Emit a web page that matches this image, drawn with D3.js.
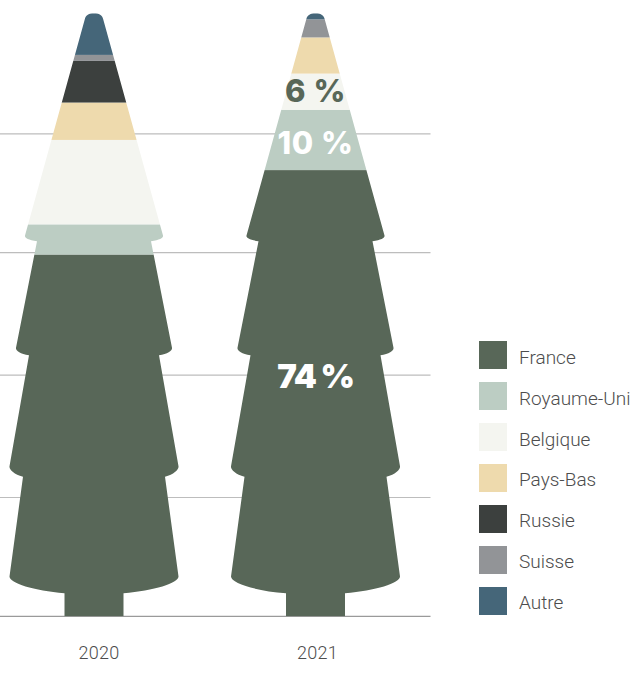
<!DOCTYPE html>
<html lang="fr">
<head>
<meta charset="utf-8">
<script src="https://cdn.jsdelivr.net/npm/d3@7"></script>
<style>
  html, body { margin: 0; padding: 0; background: #fff; overflow: hidden; }
  svg { display: block; }
  .axis-label, .legend-label { font-family: Roboto, sans-serif; font-weight: 300; fill: #4d4d4d; }
  .value-label { font-family: Inter, sans-serif; }
</style>
</head>
<body>
<div id="chart"></div>
<script>
const years = ["2020", "2021"];
const countries = ["France", "Royaume-Uni", "Belgique", "Pays-Bas", "Russie", "Suisse", "Autre"];
const colors = ["#586758", "#bccdc3", "#f4f5f0", "#eedaad", "#3c403e", "#929497", "#456679"];
const values2020 = [60, 5, 14, 6.2, 6.9, 1, 6.9];
const values2021 = [74, 10, 6, 6, 0, 3, 1];
const gridTicks = [0, 19.7, 40, 60.3, 80];
const labelledCountries = ["France", "Royaume-Uni", "Belgique"];

const width = 634, height = 684;
const svg = d3.select("#chart").append("svg").attr("width", width).attr("height", height);

const y = d3.scaleLinear().domain([0, 100]).range([616.3, 13.3]);
const x = d3.scaleBand().domain(years).range([-16.75, 426.25]);
const xLabel = d3.scalePoint().domain(years).range([99, 317.5]);

// Fir silhouette around cx; `dy` runs from the tip (0) down to the ground line.
function firPath(cx) {
  const top = y(100);
  const p = (dx, dy) => `${cx + dx},${top + dy}`;
  const right = [
    `M${p(0, 0)}`,
    `C${p(5, 0)} ${p(8.2, 1.8)} ${p(9.2, 6)}`,
    `L${p(69, 222.3)}`,
    `C${p(69.5, 224.5)} ${p(66, 226.5)} ${p(57, 228)}`,
    `L${p(78, 334.5)}`,
    `C${p(78.5, 337)} ${p(74, 340.5)} ${p(65, 342)}`,
    `L${p(84.5, 453)}`,
    `C${p(85, 456)} ${p(80, 461)} ${p(71, 463.5)}`,
    `L${p(84.5, 563.3)}`,
    `C${p(84.5, 570)} ${p(60, 577.5)} ${p(29.5, 580)}`,
    `L${p(29.5, 603)}`
  ];
  const left = [
    `L${p(-29.5, 603)}`,
    `L${p(-29.5, 580)}`,
    `C${p(-60, 577.5)} ${p(-84.5, 570)} ${p(-84.5, 563.3)}`,
    `L${p(-71, 463.5)}`,
    `C${p(-80, 461)} ${p(-85, 456)} ${p(-84.5, 453)}`,
    `L${p(-65, 342)}`,
    `C${p(-74, 340.5)} ${p(-78.5, 337)} ${p(-78, 334.5)}`,
    `L${p(-57, 228)}`,
    `C${p(-66, 226.5)} ${p(-69.5, 224.5)} ${p(-69, 222.3)}`,
    `L${p(-9.2, 6)}`,
    `C${p(-8.2, 1.8)} ${p(-5, 0)} ${p(0, 0)}`,
    "Z"
  ];
  return right.concat(left).join(" ");
}

// Gridlines
svg.append("g").selectAll("line").data(gridTicks).join("line")
  .attr("x1", 0).attr("x2", 430.5)
  .attr("y1", d => y(d)).attr("y2", d => y(d))
  .attr("stroke", d => d === 0 ? "#9a9a9a" : "#bdbdbd")
  .attr("stroke-width", 1.2);

const series = [values2020, values2021];
const defs = svg.append("defs");

years.forEach((year, i) => {
  const cx = x(year) + x.bandwidth() / 2;
  defs.append("clipPath").attr("id", `fir-${year}`).append("path").attr("d", firPath(cx));

  const stack = d3.cumsum(series[i]);
  const segments = series[i].map((v, k) => ({ v, top: stack[k], base: stack[k] - v, color: colors[k] }));

  svg.append("g").attr("clip-path", `url(#fir-${year})`)
    .selectAll("rect").data(segments.filter(s => s.v > 0)).join("rect")
    .attr("x", cx - 100).attr("width", 200)
    .attr("y", s => y(s.top)).attr("height", s => y(s.base) - y(s.top))
    .attr("fill", s => s.color);

  svg.append("text").attr("class", "axis-label")
    .attr("x", xLabel(year)).attr("y", 658.5).attr("text-anchor", "middle")
    .attr("font-size", 18).attr("letter-spacing", 0.3).text(year);
});

// Percent labels on the 2021 tree; the France label sits above its segment's middle
const cx21 = x("2021") + x.bandwidth() / 2;
const stack21 = d3.cumsum(values2021);
labelledCountries.forEach(country => {
  const k = countries.indexOf(country);
  const isFrance = country === "France";
  const mid = stack21[k] - values2021[k] / 2;
  svg.append("text").attr("class", "value-label")
    .attr("x", cx21).attr("text-anchor", "middle")
    .attr("y", isFrance ? y(40) + 12.7 : y(mid) + (country === "Belgique" ? 10.7 : 14))
    .attr("font-size", isFrance ? 33 : 31)
    .attr("font-weight", isFrance ? 900 : 800)
    .attr("letter-spacing", isFrance ? -1.4 : 0.6)
    .attr("fill", country === "Belgique" ? colors[0] : "#ffffff")
    .text(`${values2021[k]} %`);
});

// Legend
const legend = svg.append("g").selectAll("g").data(countries).join("g");
legend.append("rect")
  .attr("x", 479).attr("y", (d, i) => 341 + i * 41)
  .attr("width", 28).attr("height", 28).attr("fill", (d, i) => colors[i]);
legend.append("text").attr("class", "legend-label")
  .attr("x", 519).attr("y", (d, i) => 364 + i * 40.83)
  .attr("font-size", 19).text(d => d);
</script>
</body>
</html>
